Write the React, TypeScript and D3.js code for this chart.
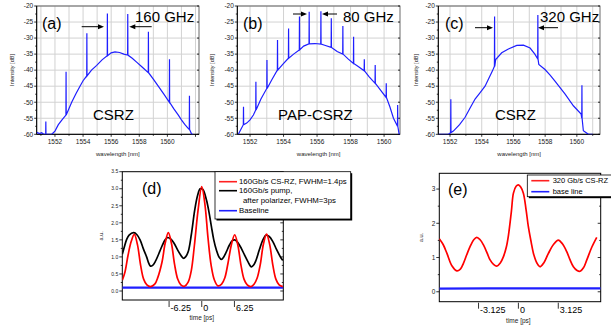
import React from 'react';
import * as d3 from 'd3';

type Pt = [number, number];

const FONT = 'Liberation Sans, Arial, Helvetica, sans-serif';
const BLUE = '#1f1fff';

// spectra: envelope [nm, dB] + carrier lines standing on it [nm, peak dB]
const envA: Pt[] = [
  [1550.7, -59.4], [1550.9, -59.8], [1551.05, -59.5], [1551.2, -60], [1551.34, -60], [1551.5, -60],
  [1551.77, -60], [1552.0, -59], [1552.24, -57], [1552.5, -55.5], [1552.78, -54], [1553.19, -50],
  [1553.5, -47.3], [1553.78, -45], [1554.0, -43.3], [1554.26, -41.8], [1554.6, -40], [1554.97, -38.5],
  [1555.35, -36.8], [1555.72, -35.5], [1556.0, -34.6], [1556.27, -34.3], [1556.6, -34.5], [1556.9, -35],
  [1557.17, -35.3], [1557.5, -36.3], [1557.81, -37.5], [1558.2, -39], [1558.64, -40.8], [1559.0, -42.8],
  [1559.35, -45], [1559.75, -47.5], [1560.14, -50], [1560.45, -52], [1560.78, -54], [1561.0, -55.5],
  [1561.25, -57], [1561.45, -58], [1561.56, -58.5], [1561.73, -60], [1561.85, -60],
];
const spikesA: Pt[] = [
  [1551.34, -56], [1552.78, -40.5], [1554.26, -28.5], [1555.72, -22.3],
  [1557.17, -22.5], [1558.64, -28], [1560.14, -36.6], [1561.56, -48],
];

const envB: Pt[] = [
  [1551.3, -60], [1551.45, -58.5], [1551.6, -57], [1551.8, -56.5], [1552.0, -55.5], [1552.2, -54],
  [1552.34, -52.4], [1552.65, -49], [1553.0, -45.7], [1553.3, -43], [1553.63, -40], [1553.95, -38.2],
  [1554.29, -36.3], [1554.6, -35], [1554.94, -33.7], [1555.2, -32.5], [1555.52, -31.8], [1555.87, -31.7],
  [1556.22, -31.9], [1556.5, -32.3], [1556.84, -32.9], [1557.2, -34.2], [1557.53, -35], [1557.85, -36.5],
  [1558.17, -37.9], [1558.5, -39], [1558.81, -40.2], [1559.1, -42], [1559.46, -44.1], [1559.8, -46.3],
  [1560.12, -48.5], [1560.35, -51.5], [1560.56, -55], [1560.8, -57.5], [1560.9, -60], [1560.95, -60],
];
const spikesB: Pt[] = [
  [1551.6, -51.4], [1552.34, -43.6], [1553.0, -36.8], [1553.63, -30.6], [1554.29, -27],
  [1554.94, -23.3], [1555.52, -21.8], [1556.22, -21.6], [1556.84, -23.8], [1557.53, -26.2],
  [1558.17, -29.6], [1558.81, -36.6], [1559.46, -38.4], [1560.12, -44.1], [1560.8, -50.9],
];

const envC: Pt[] = [
  [1551.27, -60], [1551.9, -60], [1552.04, -59.5], [1552.21, -59], [1552.6, -57], [1552.95, -54.7],
  [1553.3, -51.5], [1553.58, -49], [1553.9, -47], [1554.21, -45], [1554.45, -42.5], [1554.67, -40.3],
  [1554.8, -38.8], [1554.88, -36.7], [1555.26, -34.6], [1555.68, -33.4], [1556.21, -32.3],
  [1556.63, -32.2], [1557.05, -33.1], [1557.35, -35], [1557.53, -36.5], [1557.6, -38.2],
  [1557.99, -39.8], [1558.3, -41.5], [1558.62, -43.4], [1559.26, -47.5], [1559.78, -51.1],
  [1560.27, -53.7], [1560.31, -55], [1560.41, -58.9], [1560.73, -60], [1561.0, -60],
];
const spikesC: Pt[] = [[1552.04, -49.1], [1554.8, -23.3], [1557.53, -22.8], [1560.31, -44.7]];

const wlTicks = [1552, 1554, 1556, 1558, 1560];
const dbTicks = [-60, -55, -50, -45, -40, -35, -30, -25, -20];

// pulse traces [ps, a.u.]
const redD: Pt[] = [
  [-15.2, 0.32], [-14.7, 0.55], [-14.1, 1.05], [-13.5, 1.45], [-12.9, 1.66], [-12.3, 1.36], [-11.7, 0.76],
  [-11.1, 0.34], [-10.5, 0.18], [-9.8, 0.13], [-9.0, 0.2], [-8.4, 0.4], [-7.6, 0.85], [-7.0, 1.4],
  [-6.4, 1.71], [-5.8, 1.4], [-5.2, 0.78], [-4.6, 0.35], [-4.0, 0.18], [-3.3, 0.14], [-2.6, 0.26],
  [-2.0, 0.6], [-1.4, 1.35], [-0.7, 2.38], [0, 3.06], [0.6, 2.55], [1.2, 1.55], [1.8, 0.75], [2.4, 0.33],
  [3.1, 0.15], [3.8, 0.2], [4.4, 0.38], [5.0, 0.8], [5.7, 1.38], [6.3, 1.65], [6.9, 1.35], [7.5, 0.76],
  [8.1, 0.34], [8.7, 0.18], [9.4, 0.13], [10.0, 0.2], [10.6, 0.38], [11.2, 0.78], [11.8, 1.38],
  [12.4, 1.67], [13.0, 1.36], [13.6, 0.76], [14.2, 0.34], [14.8, 0.18], [15.5, 0.13],
];
const blackD: Pt[] = [
  [-15.2, 1.08], [-14.8, 1.3], [-14.4, 1.5], [-13.9, 1.64], [-13.0, 1.71], [-12.4, 1.65], [-11.8, 1.5],
  [-11.2, 1.25], [-10.55, 1.0], [-10.1, 0.8], [-9.8, 0.73], [-9.4, 0.75], [-8.9, 0.86], [-8.2, 1.1],
  [-7.6, 1.32], [-7.0, 1.5], [-6.5, 1.57], [-5.9, 1.52], [-5.3, 1.4], [-4.6, 1.2], [-4.0, 1.05],
  [-3.5, 0.96], [-3.1, 1.0], [-2.6, 1.15], [-2.0, 1.65], [-1.34, 2.38], [-0.8, 2.8], [-0.3, 3.0],
  [0.2, 2.98], [0.9, 2.67], [1.4, 2.3], [1.85, 1.89], [2.3, 1.5], [2.8, 1.2], [3.3, 1.0], [3.76, 0.93],
  [4.2, 1.0], [4.7, 1.15], [5.3, 1.35], [5.8, 1.47], [6.3, 1.5], [6.9, 1.42], [7.57, 1.25], [8.2, 1.05],
  [8.83, 0.86], [9.5, 0.71], [10.0, 0.78], [10.4, 0.91], [11.0, 1.2], [11.7, 1.5], [12.3, 1.64],
  [12.9, 1.6], [13.6, 1.45], [14.3, 1.22], [15.2, 0.96], [15.5, 0.9],
];
const baseD: Pt[] = [[-15.2, 0.1], [0, 0.1], [15.6, 0.1]];

const redE: Pt[] = [
  [-6.2, 1.55], [-5.9, 1.38], [-5.6, 1.12], [-5.2, 0.75], [-4.83, 0.61], [-4.55, 0.66], [-4.31, 0.83],
  [-4.05, 1.08], [-3.79, 1.32], [-3.5, 1.52], [-3.26, 1.59], [-3.0, 1.52], [-2.74, 1.37], [-2.45, 1.13],
  [-2.22, 0.93], [-1.95, 0.8], [-1.69, 0.75], [-1.42, 0.84], [-1.18, 1.02], [-0.95, 1.3], [-0.78, 1.65],
  [-0.55, 2.35], [-0.39, 2.88], [-0.18, 3.08], [0, 3.12], [0.18, 3.06], [0.39, 2.88], [0.6, 2.4],
  [0.78, 1.9], [1.0, 1.45], [1.18, 1.12], [1.45, 0.84], [1.7, 0.73], [2.0, 0.85], [2.35, 1.12],
  [2.75, 1.38], [3.13, 1.51], [3.45, 1.4], [3.79, 1.17], [4.05, 0.93], [4.31, 0.73], [4.6, 0.62],
  [4.84, 0.6], [5.1, 0.7], [5.36, 0.93], [5.75, 1.3], [6.14, 1.59],
];
const baseE: Pt[] = [[-6.2, 0.09], [0, 0.1], [6.45, 0.1]];

const tTicksD = [-6.25, 0, 6.25];
const tTicksE = [-3.125, 0, 3.125];

// envelope + vertical carrier lines in one path
function withSpikes(env: Pt[], spikes: Pt[]): Pt[] {
  const out: Pt[] = [];
  env.forEach(([w, v]) => {
    out.push([w, v]);
    const s = spikes.find(p => Math.abs(p[0] - w) < 1e-6);
    if (s) {
      out.push([w + 0.01, s[1]]);
      out.push([w + 0.02, v]);
    }
  });
  return out;
}

function Arrow({ x1, x2, y }: { x1: number; x2: number; y: number }) {
  const d = x2 > x1 ? 1 : -1;
  return (
    <g>
      <line x1={x1} x2={x2 - d * 4} y1={y} y2={y} stroke="#000" strokeWidth={1} />
      <path d={`M${x2},${y} L${x2 - d * 6},${y - 2.5} L${x2 - d * 6},${y + 2.5} Z`} fill="#000" />
    </g>
  );
}

function Spectrum(props: any) {
  const { id, x0, x1, domain, env, spikes, tag, tagX, freq, freqX, label, labelX, arrowY, ar, al, ylabX } = props;
  const top = 6, bot = 134.3;
  const x = d3.scaleLinear().domain(domain).range([x0, x1]);
  const y = d3.scaleLinear().domain([-60, -20]).range([bot, top]);
  const line = d3.line<Pt>().x(d => x(d[0])).y(d => y(d[1]));
  const grid = d3.range(Math.ceil(domain[0]), domain[1], 1);
  const minorY = d3.range(-57.5, -20, 5);
  return (
    <g fontFamily={FONT}>
      <defs>
        <clipPath id={id}><rect x={x0} y={top} width={x1 - x0} height={bot - top} /></clipPath>
      </defs>
      {grid.map(g => <line key={'g' + g} x1={x(g)} x2={x(g)} y1={top} y2={bot} stroke="#d2d2d2" strokeWidth={1} />)}
      {dbTicks.map(t => <line key={'h' + t} x1={x0} x2={x1} y1={y(t)} y2={y(t)} stroke="#d2d2d2" strokeWidth={1} />)}
      <rect x={x0} y={top} width={x1 - x0} height={bot - top} fill="none" stroke="#444" strokeWidth={0.8} />
      <line x1={x0} x2={x0} y1={top} y2={bot} stroke="#000" />
      <line x1={x0} x2={x1} y1={bot} y2={bot} stroke="#000" />
      {grid.map(g => (
        <line key={'t' + g} x1={x(g)} x2={x(g)} y1={bot} y2={bot + (g % 2 === 0 ? 2.5 : 1.5)} stroke="#000" strokeWidth={0.8} />
      ))}
      {dbTicks.map(t => <line key={'yt' + t} x1={x0 - 2.5} x2={x0} y1={y(t)} y2={y(t)} stroke="#000" strokeWidth={0.8} />)}
      {minorY.map(t => <line key={'ym' + t} x1={x0 - 1.5} x2={x0} y1={y(t)} y2={y(t)} stroke="#000" strokeWidth={0.8} />)}
      {dbTicks.map(t => <line key={'yr' + t} x1={x1 - 2} x2={x1} y1={y(t)} y2={y(t)} stroke="#000" strokeWidth={0.8} />)}
      {dbTicks.map(t => (
        <text key={'yl' + t} x={x0 - 3.5} y={y(t) + 2.3} fontSize={6.5} textAnchor="end" fill="#222">{t}</text>
      ))}
      {wlTicks.map(t => (
        <text key={'xl' + t} x={x(t)} y={144} fontSize={6.5} textAnchor="middle" fill="#222">{t}</text>
      ))}
      <text x={(x0 + x1) / 2} y={156} fontSize={6} textAnchor="middle" fill="#222">wavelength [nm]</text>
      <text transform={`translate(${ylabX},70) rotate(-90)`} fontSize={5.5} textAnchor="middle" fill="#222">Intensity [dB]</text>
      <path d={line(withSpikes(env, spikes)) || ''} fill="none" stroke={BLUE} strokeWidth={1.2} clipPath={`url(#${id})`} />
      <text x={tagX} y={29} fontSize={16}>{tag}</text>
      <text x={freqX} y={22} fontSize={15}>{freq}</text>
      <text x={labelX} y={120} fontSize={15}>{label}</text>
      <Arrow x1={ar[0]} x2={ar[1]} y={arrowY} />
      <Arrow x1={al[0]} x2={al[1]} y={arrowY} />
    </g>
  );
}

function Pulses(props: any) {
  const { id, x0, x1, top, bot, xDomain, yDomain, yMajor, yMinor, yFmt, yFont, series, ticks, tag, tagX, ylabX, xlabY, tickY } = props;
  const x = d3.scaleLinear().domain(xDomain).range([x0, x1]);
  const y = d3.scaleLinear().domain(yDomain).range([bot, top]);
  const line = d3.line<Pt>().x(d => x(d[0])).y(d => y(d[1])).curve(d3.curveCatmullRom);
  const zero = x(0);
  return (
    <g fontFamily={FONT}>
      <defs>
        <clipPath id={id}><rect x={x0} y={top} width={x1 - x0} height={bot - top} /></clipPath>
      </defs>
      <rect x={x0} y={top} width={x1 - x0} height={bot - top} fill="none" stroke="#000" strokeWidth={1} />
      {yMajor.map((t: number) => (
        <g key={'ym' + t}>
          <line x1={x0 - 3} x2={x0} y1={y(t)} y2={y(t)} stroke="#000" strokeWidth={0.8} />
          <line x1={x1 - 3} x2={x1} y1={y(t)} y2={y(t)} stroke="#000" strokeWidth={0.8} />
          <text x={x0 - 4} y={y(t) + yFont * 0.35} fontSize={yFont} textAnchor="end" fill="#222">{yFmt(t)}</text>
        </g>
      ))}
      {yMinor.map((t: number) => (
        <g key={'yn' + t}>
          <line x1={x0 - 1.5} x2={x0} y1={y(t)} y2={y(t)} stroke="#000" strokeWidth={0.8} />
          <line x1={x1 - 1.5} x2={x1} y1={y(t)} y2={y(t)} stroke="#000" strokeWidth={0.8} />
        </g>
      ))}
      {ticks.map((t: number) => (
        <g key={'xt' + t}>
          <line x1={x(t)} x2={x(t)} y1={bot + 1} y2={bot + 7} stroke="#000" strokeWidth={0.8} />
          <text x={x(t) + 1.5} y={tickY} fontSize={9}>{t}</text>
        </g>
      ))}
      <text x={zero} y={xlabY} fontSize={6.5} textAnchor="middle" fill="#222">time [ps]</text>
      <text transform={`translate(${ylabX},${(top + bot) / 2}) rotate(-90)`} fontSize={5.5} textAnchor="middle" fill="#222">a.u.</text>
      {series.map((s: any, i: number) => (
        <path key={i} d={line(s.data) || ''} fill="none" stroke={s.color} strokeWidth={s.w} clipPath={`url(#${id})`} />
      ))}
      <text x={tagX} y={top + 22} fontSize={16}>{tag}</text>
    </g>
  );
}

function Legend({ x, y, w, h, rows }: any) {
  return (
    <g fontFamily={FONT}>
      <rect x={x + 1.5} y={y + 1.5} width={w} height={h} fill="#000" />
      <rect x={x} y={y} width={w} height={h} fill="#fff" stroke="#000" strokeWidth={0.8} />
      {rows.map((r: any, i: number) => (
        <g key={i}>
          {r.color && <line x1={x + 4} x2={x + 22} y1={r.y} y2={r.y} stroke={r.color} strokeWidth={1.6} />}
          <text x={r.tx} y={r.y + 2.6} fontSize={r.fs}>{r.text}</text>
        </g>
      ))}
    </g>
  );
}

export default function App() {
  return (
    <svg width={611} height={327} style={{ position: 'absolute', left: 0, top: 0, background: '#fff' }}>
      <rect width={611} height={327} fill="#fff" />
      <Spectrum id="ca" x0={36.7} x1={199} domain={[1550.7, 1562.25]} env={envA} spikes={spikesA}
        tag="(a)" tagX={42} freq="160 GHz" freqX={135} label="CSRZ" labelX={93} ylabX={14}
        arrowY={26.7} ar={[81.7, 104]} al={[151.7, 129.3]} />
      <Spectrum id="cb" x0={237.3} x1={400} domain={[1551.24, 1560.95]} env={envB} spikes={spikesB}
        tag="(b)" tagX={243} freq="80 GHz" freqX={343} label="PAP-CSRZ" labelX={278} ylabX={214}
        arrowY={14} ar={[293, 307]} al={[337, 322]} />
      <Spectrum id="cc" x0={438.3} x1={600} domain={[1551.26, 1561.46]} env={envC} spikes={spikesC}
        tag="(c)" tagX={445} freq="320 GHz" freqX={540} label="CSRZ" labelX={495} ylabX={418}
        arrowY={27.7} ar={[475, 493]} al={[558, 538]} />

      <Pulses id="cd" x0={122.3} x1={283.3} top={171.7} bot={300} xDomain={[-15.2, 15.6]} yDomain={[-0.264, 3.5]}
        yMajor={d3.range(0, 3.51, 0.5)} yMinor={d3.range(0.25, 3.5, 0.5)} yFmt={(t: number) => t.toFixed(1)} yFont={5}
        ticks={tTicksD} tag="(d)" tagX={142} ylabX={103} xlabY={319.5} tickY={310.5}
        series={[
          { data: baseD, color: BLUE, w: 2.4 },
          { data: blackD, color: '#000', w: 1.7 },
          { data: redD, color: '#ff0000', w: 1.7 },
        ]} />
      <Legend x={215} y={171.7} w={135.7} h={47.3} rows={[
        { color: '#ff2020', y: 181.7, tx: 239, fs: 7.8, text: '160Gb/s CS-RZ, FWHM=1.4ps' },
        { color: '#000', y: 190.7, tx: 239, fs: 7.8, text: '160Gb/s pump,' },
        { y: 200.7, tx: 243, fs: 7.8, text: 'after polarizer, FWHM=3ps' },
        { color: BLUE, y: 210.7, tx: 239, fs: 7.8, text: 'Baseline' },
      ]} />

      <Pulses id="ce" x0={439.3} x1={600.7} top={173.3} bot={301.7} xDomain={[-6.2, 6.45]} yDomain={[-0.29, 3.46]}
        yMajor={[0, 1, 2, 3]} yMinor={[0.5, 1.5, 2.5]} yFmt={(t: number) => String(t)} yFont={6.5}
        ticks={tTicksE} tag="(e)" tagX={448} ylabX={423} xlabY={322.5} tickY={312.5}
        series={[
          { data: baseE, color: BLUE, w: 2.2 },
          { data: redE, color: '#ff0000', w: 1.7 },
        ]} />
      <Legend x={527.3} y={175} w={90} h={21.7} rows={[
        { color: '#ff2020', y: 180.7, tx: 552.7, fs: 7.5, text: '320 Gb/s CS-RZ' },
        { color: BLUE, y: 191.7, tx: 552.7, fs: 7.5, text: 'base line' },
      ]} />
    </svg>
  );
}
